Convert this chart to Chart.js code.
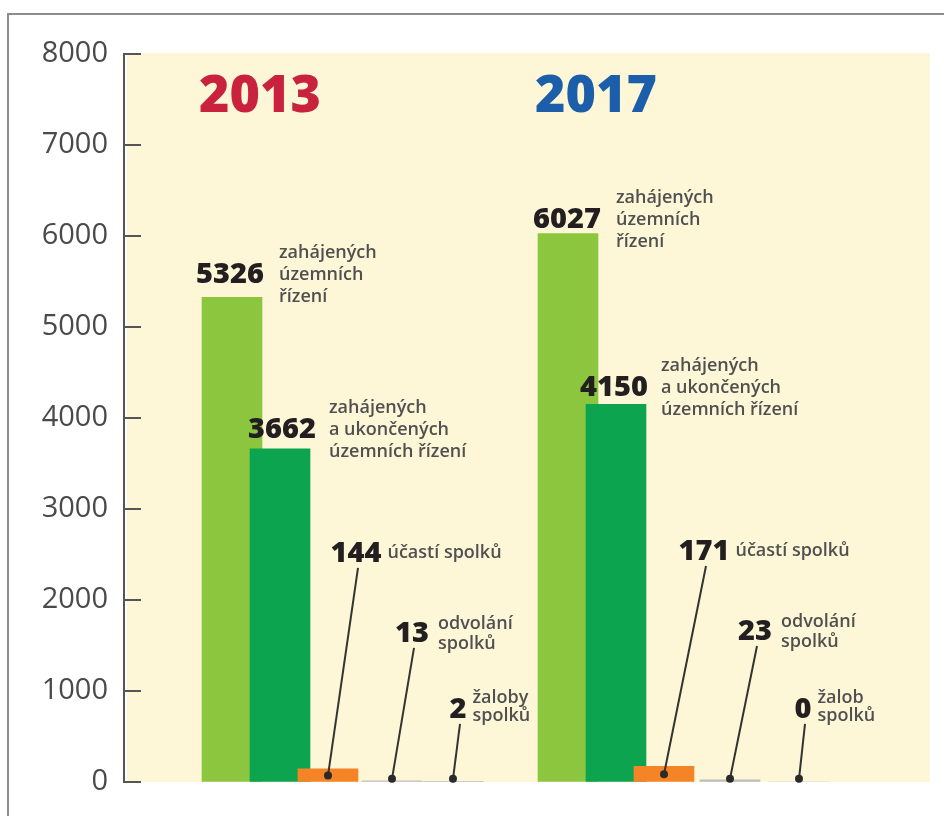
<!DOCTYPE html>
<html>
<head>
<meta charset="utf-8">
<title>Územní řízení a spolky 2013 / 2017</title>
<script src="https://cdn.jsdelivr.net/npm/chart.js@4.4.1/dist/chart.umd.min.js"></script>
<style>
  html, body { margin: 0; padding: 0; background: #fff; }
  canvas { display: block; }
</style>
</head>
<body>
<canvas id="chart" width="944" height="816"></canvas>
<script>
// Data
const years = ['2013', '2017'];
const initiated = [5326, 6027];     // zahájených územních řízení
const completed = [3662, 4150];     // zahájených a ukončených územních řízení
const participation = [144, 171];   // účastí spolků
const appeals = [13, 23];           // odvolání spolků
const lawsuits = [2, 0];            // žaloby spolků
const yTicks = [0, 1000, 2000, 3000, 4000, 5000, 6000, 7000, 8000];

// Description texts next to each number (per year)
const descInitiated = [['zahájených', 'územních', 'řízení'], ['zahájených', 'územních', 'řízení']];
const descCompleted = [['zahájených', 'a ukončených', 'územních řízení'], ['zahájených', 'a ukončených', 'územních řízení']];
const descParticipation = [['účastí spolků'], ['účastí spolků']];
const descAppeals = [['odvolání', 'spolků'], ['odvolání', 'spolků']];
const descLawsuits = [['žaloby', 'spolků'], ['žalob', 'spolků']];

// Layout: bar centres on the x scale (one row per year)
const barSlots = [[108, 156, 204, 268, 329], [444, 492, 540, 606, 675]];
const yearColors = ['#c8223e', '#1d5eab'];

const series = [
    { values: initiated, desc: descInitiated, color: '#8cc63f',
      dx: [-2, -1], off: [14, 6], lines: [-25, -3, 19], gap: 15 },
    { values: completed, desc: descCompleted, color: '#0da44f',
      dx: [2, -2], off: [11, 8], lines: [-25, -3, 19], gap: 13 },
    { values: participation, desc: descParticipation, color: '#f58426',
      dx: [28, 40], at: [2420, 2440], lines: [-4], gap: 6 },
    { values: appeals, desc: descAppeals, color: '#bdbdbd',
      dx: [20, 25], at: [1540, 1560], lines: [-13, 7], gap: 9 },
    { values: lawsuits, desc: descLawsuits, color: '#bdbdbd',
      dx: [5, 4], at: [705, 705], lines: [-15, 3], gap: 6 }
];

// Background, frame, inward ticks, titles and annotations
const decor = {
    id: 'decor',
    beforeDraw(chart) {
        const { ctx, chartArea: a } = chart;
        ctx.save();
        ctx.fillStyle = '#fff';
        ctx.fillRect(0, 0, chart.width, chart.height);
        ctx.strokeStyle = '#8c8c8c';
        ctx.lineWidth = 2;
        ctx.beginPath();
        ctx.moveTo(8, chart.height);
        ctx.lineTo(8, 14);
        ctx.lineTo(chart.width, 14);
        ctx.stroke();
        ctx.fillStyle = '#fdf7d8';
        ctx.fillRect(a.left + 3, a.top - 1, a.right - a.left - 3, a.bottom - a.top + 1);
        ctx.restore();
    },
    afterDatasetsDraw(chart) {
        const { ctx, scales: { x, y }, chartArea: a } = chart;
        ctx.save();

        // inward tick marks
        ctx.strokeStyle = '#555';
        ctx.lineWidth = 2;
        yTicks.forEach(v => {
            const py = Math.round(y.getPixelForValue(v));
            ctx.beginPath();
            ctx.moveTo(a.left, py);
            ctx.lineTo(a.left + 17, py);
            ctx.stroke();
        });

        // year titles
        ctx.textAlign = 'center';
        ctx.textBaseline = 'alphabetic';
        ctx.font = '800 52px "Open Sans"';
        years.forEach((yr, g) => {
            ctx.fillStyle = yearColors[g];
            ctx.fillText(yr, x.getPixelForValue(barSlots[g][0] + 28), y.getPixelForValue(7360));
        });

        // numbers, descriptions, leaders
        series.forEach((s, si) => {
            s.values.forEach((v, g) => {
                const cx = x.getPixelForValue(barSlots[g][si]);
                const nx = cx + s.dx[g];
                const base = s.at ? y.getPixelForValue(s.at[g]) : y.getPixelForValue(v) - s.off[g];

                if (s.at) {
                    const dy = y.getPixelForValue(Math.max(v / 2, 35));
                    ctx.strokeStyle = '#333';
                    ctx.lineWidth = 2;
                    ctx.beginPath();
                    ctx.moveTo(cx, dy);
                    ctx.lineTo(nx + 2, base + 6);
                    ctx.stroke();
                    ctx.fillStyle = '#2a2a2a';
                    ctx.beginPath();
                    ctx.arc(cx, dy, 4, 0, Math.PI * 2);
                    ctx.fill();
                }

                ctx.font = '800 29px "Open Sans"';
                ctx.fillStyle = '#231f20';
                ctx.textAlign = 'center';
                const label = String(v);
                const w = ctx.measureText(label).width;
                ctx.fillText(label, nx, base);

                ctx.font = '600 18px "Open Sans"';
                ctx.fillStyle = '#505050';
                ctx.textAlign = 'left';
                s.desc[g].forEach((line, i) => {
                    ctx.fillText(line, nx + w / 2 + s.gap, base + s.lines[i]);
                });
            });
        });
        ctx.restore();
    }
};

new Chart(document.getElementById('chart'), {
    type: 'bar',
    data: {
        datasets: series.map((s, si) => ({
            label: s.desc[0].join(' '),
            data: s.values.map((v, g) => ({ x: barSlots[g][si], y: v })),
            backgroundColor: s.color,
            borderWidth: 0,
            barThickness: 60,
            grouped: false,
            order: series.length - si
        }))
    },
    options: {
        responsive: false,
        animation: false,
        devicePixelRatio: 1,
        layout: { padding: { left: 0, top: 54, right: 14, bottom: 34 } },
        plugins: { legend: { display: false }, tooltip: { enabled: false } },
        scales: {
            x: { type: 'linear', min: 0, max: 806, offset: false, display: false },
            y: {
                min: 0,
                max: 8000,
                afterBuildTicks: scale => { scale.ticks = yTicks.map(v => ({ value: v })); },
                afterFit: scale => { scale.width = 124; },
                ticks: {
                    padding: 16,
                    color: '#4a4a4a',
                    font: { family: '"Open Sans"', size: 29 },
                    callback: value => String(value)
                },
                grid: { drawOnChartArea: false, drawTicks: false },
                border: { color: '#555', width: 2 }
            }
        }
    },
    plugins: [decor]
});
</script>
</body>
</html>
